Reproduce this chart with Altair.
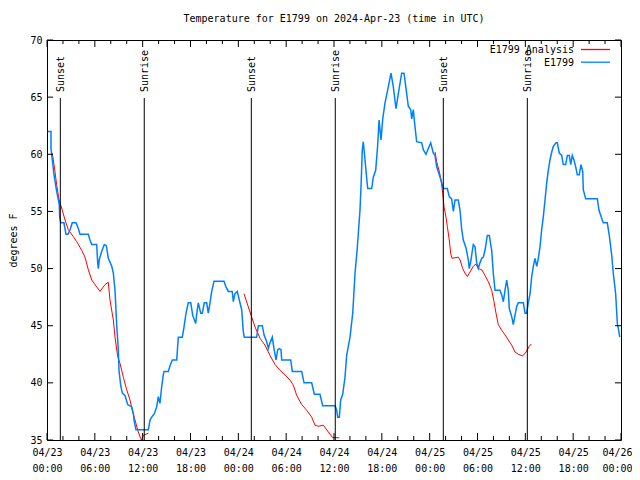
import altair as alt
import pandas as pd

title_text = "Temperature for E1799 on 2024-Apr-23 (time in UTC)"
y_title = "degrees F"
series_names = ["E1799 Analysis", "E1799"]
series_colors = ["#ff0000", "#0080ff"]
FONT = "DejaVu Sans Mono"

# hours since 2024-04-23 00:00 UTC, temperature (deg F)
obs_points = [
    (0.1, 62.0), (0.5, 62.0), (0.5, 60.5), (0.88, 58.2), (1.13, 57.1), (1.34, 56.3), (1.54, 55.6),
    (1.59, 54.5), (1.72, 54.0), (2.13, 54.0), (2.38, 53.0), (2.63, 53.0), (2.89, 53.4), (3.17, 54.0),
    (3.64, 54.0), (3.93, 53.5), (4.14, 53.0), (5.18, 53.0), (5.39, 52.5), (5.61, 52.1), (6.23, 52.1),
    (6.36, 50.5), (6.44, 50.0), (6.56, 50.8), (6.86, 51.5), (7.19, 52.1), (7.44, 52.0), (7.69, 50.9),
    (8.12, 50.2), (8.32, 49.6), (8.53, 48.1), (8.74, 45.1), (8.94, 42.9), (9.03, 41.1), (9.24, 39.8),
    (9.45, 39.1), (9.78, 38.9), (10.12, 38.1), (10.62, 37.9), (10.83, 37.3), (10.95, 36.6),
    (11.16, 35.9), (12.71, 35.9), (12.92, 36.75), (13.13, 37.0), (13.46, 37.3), (13.76, 37.9),
    (13.96, 38.8), (14.17, 38.2), (14.39, 39.7), (14.59, 40.7), (14.68, 41.0), (15.22, 41.0),
    (15.43, 41.5), (15.72, 42.0), (16.27, 42.0), (16.47, 44.0), (16.97, 44.0), (17.19, 44.9),
    (17.44, 46.1), (17.72, 47.0), (18.03, 47.0), (18.28, 45.9), (18.65, 45.2), (18.85, 46.4),
    (18.98, 47.0), (19.28, 46.1), (19.48, 46.1), (19.73, 47.0), (20.03, 47.0), (20.23, 46.1),
    (20.45, 47.0), (20.66, 48.0), (20.95, 48.9), (22.20, 48.9), (22.45, 48.4), (22.74, 48.0),
    (23.24, 48.0), (23.37, 47.1), (23.58, 47.8), (23.87, 48.0), (24.12, 47.25), (24.42, 46.4),
    (24.62, 44.5), (24.75, 44.0), (26.30, 44.0), (26.51, 45.0), (27.01, 45.0), (27.22, 44.2),
    (27.56, 43.6), (27.76, 43.0), (27.97, 43.5), (28.26, 44.0), (28.47, 43.0), (28.73, 42.0),
    (28.94, 42.9), (29.14, 43.0), (29.35, 42.9), (29.44, 42.0), (30.57, 42.0), (30.77, 41.0),
    (31.95, 41.0), (32.24, 40.0), (33.20, 40.0), (33.53, 39.0), (34.24, 39.0), (34.58, 38.0),
    (36.13, 38.0), (36.34, 37.6), (36.46, 37.0), (36.67, 37.0), (36.84, 38.5), (37.09, 39.0),
    (37.38, 40.5), (37.59, 42.4), (38.01, 44.0), (38.35, 46.1), (38.64, 49.6), (38.92, 51.8),
    (39.26, 55.1), (39.39, 57.2), (39.55, 60.4), (39.67, 61.1), (39.89, 59.5), (40.10, 57.9),
    (40.23, 57.0), (40.73, 57.0), (40.93, 58.0), (41.23, 58.6), (41.48, 60.8), (41.65, 63.0),
    (41.90, 61.25), (42.11, 63.1), (42.40, 64.5), (42.81, 65.9), (43.15, 67.1), (43.44, 65.9),
    (43.74, 64.2), (43.78, 64.0), (44.07, 65.3), (44.49, 67.1), (44.78, 67.1), (45.12, 65.3),
    (45.32, 64.2), (45.62, 63.9), (45.75, 63.1), (45.95, 63.9), (46.16, 62.4), (46.37, 61.1),
    (47.00, 61.0), (47.20, 60.4), (47.54, 60.0), (47.83, 60.5), (48.13, 61.0), (48.46, 60.1),
    (48.67, 59.9), (48.88, 58.9), (49.21, 58.2), (49.39, 57.8), (49.71, 57.0), (50.21, 57.0),
    (50.46, 56.3), (50.76, 56.1), (50.97, 55.0), (51.18, 56.0), (51.59, 56.0), (51.81, 55.1),
    (52.02, 53.4), (52.22, 52.5), (52.56, 51.8), (52.85, 50.75), (52.97, 50.0), (53.18, 50.75),
    (53.47, 52.1), (53.69, 51.9), (53.90, 50.5), (54.10, 50.0), (54.31, 50.5), (54.53, 50.9),
    (54.73, 51.0), (54.94, 51.6), (55.23, 52.9), (55.48, 52.9), (55.78, 51.6), (55.98, 49.6),
    (56.20, 48.1), (56.82, 48.1), (57.04, 47.7), (57.24, 47.1), (57.45, 48.1), (57.66, 49.0),
    (57.86, 48.1), (57.99, 46.5), (58.29, 45.8), (58.49, 45.1), (58.70, 45.9), (58.92, 46.7),
    (59.12, 47.0), (59.75, 47.0), (59.96, 46.1), (60.17, 46.1), (60.37, 47.0), (60.59, 47.8),
    (60.80, 49.3), (61.00, 50.2), (61.21, 50.9), (61.43, 50.2), (61.63, 50.9), (61.84, 51.9),
    (62.05, 53.4), (62.25, 54.5), (62.47, 56.0), (62.68, 57.5), (62.88, 58.6), (63.09, 59.5),
    (63.31, 60.2), (63.51, 60.7), (63.85, 61.0), (64.01, 61.0), (64.26, 60.1), (64.56, 59.9),
    (64.76, 59.1), (65.06, 59.1), (65.27, 59.9), (65.52, 59.9), (65.69, 59.1), (65.89, 59.9),
    (66.10, 59.5), (66.32, 58.9), (66.52, 58.2), (66.77, 58.2), (66.98, 59.1), (67.20, 58.5),
    (67.27, 56.9), (67.57, 56.1), (69.03, 56.1), (69.24, 55.1), (69.65, 54.25), (69.78, 54.0),
    (70.28, 54.0), (70.53, 52.9), (70.83, 51.2), (71.03, 49.6), (71.33, 47.8), (71.54, 45.2),
    (71.71, 44.6), (71.84, 44.0),
]

analysis_seg1 = [
    (0.66, 60.1), (0.92, 58.9), (1.22, 57.3), (1.51, 56.0), (1.84, 55.3), (2.26, 54.25),
    (2.67, 53.4), (3.30, 52.8), (3.73, 52.35), (4.35, 51.6), (4.77, 51.0), (5.18, 49.9),
    (5.61, 49.0), (6.23, 48.4), (6.65, 48.0), (7.28, 48.6), (7.69, 48.8), (7.90, 47.25),
    (8.32, 45.5), (8.53, 44.0), (8.87, 42.3), (9.16, 41.7), (9.57, 40.5), (10.00, 39.4),
    (10.41, 38.5), (10.70, 37.6), (11.04, 36.75), (11.45, 35.7), (11.75, 35.15), (11.83, 35.0),
    (12.08, 35.4), (12.71, 35.6),
]
analysis_seg2 = [
    (24.71, 47.8), (25.46, 46.2), (26.09, 44.9), (26.72, 43.9), (27.34, 43.3), (27.97, 42.4),
    (28.60, 41.6), (29.23, 41.1), (29.85, 40.7), (30.48, 40.25), (30.90, 39.8), (31.32, 38.9),
    (31.95, 38.1), (32.58, 37.6), (33.20, 37.0), (33.62, 36.3), (34.03, 36.2), (34.66, 36.3),
    (35.29, 35.7), (35.84, 35.2), (36.67, 35.2),
]
analysis_seg3 = [
    (48.67, 60.2), (48.88, 59.35), (49.21, 58.5), (49.42, 57.75), (49.64, 56.6), (49.80, 55.4),
    (50.05, 54.5), (50.21, 53.7), (50.46, 52.5), (50.64, 51.3), (50.80, 50.9), (51.59, 51.0),
    (51.81, 50.75), (52.14, 50.0), (52.43, 49.6), (52.72, 49.3), (53.06, 49.7), (53.47, 50.2),
    (53.81, 50.4), (54.10, 50.0), (54.53, 49.9), (54.94, 49.4), (55.36, 48.85), (55.78, 48.1),
    (56.07, 47.1), (56.32, 46.1), (56.61, 45.1), (57.04, 44.6), (57.45, 44.2), (57.86, 43.75),
    (58.29, 43.3), (58.70, 42.7), (59.12, 42.5), (59.67, 42.35), (60.08, 42.7), (60.50, 43.2),
    (60.75, 43.4),
]

sun_hours = [1.67, 12.2, 25.63, 36.16, 49.71, 60.25]
sun_labels = ["Sunset", "Sunrise", "Sunset", "Sunrise", "Sunset", "Sunrise"]

major_x = [0, 6, 12, 18, 24, 30, 36, 42, 48, 54, 60, 66, 72]
minor_x = [2, 4, 8, 10, 14, 16, 20, 22, 26, 28, 32, 34, 38, 40, 44, 46, 50, 52, 56, 58, 62, 64, 68, 70]
y_ticks = [35, 40, 45, 50, 55, 60, 65, 70]

W, H = 574, 400

xs = alt.Scale(domain=[0, 72], nice=False, zero=False)
ys = alt.Scale(domain=[35, 70], nice=False, zero=False)

obs_df = pd.DataFrame(obs_points, columns=["h", "t"])
rows = []
for k, seg in enumerate([analysis_seg1, analysis_seg2, analysis_seg3]):
    for h, t in seg:
        rows.append({"h": h, "t": t, "seg": k})
ana_df = pd.DataFrame(rows)

label_expr = ("['04/' + (23 + floor(datum.value / 24)), "
              "(datum.value % 24 < 10 ? '0' : '') + (datum.value % 24) + ':00']")

x_axis = alt.Axis(values=major_x, labelExpr=label_expr, labelLineHeight=16, labelPadding=7,
                  labelAngle=0, labelFlush=False, labelOverlap=False, title=None,
                  labelOffset=alt.condition("datum.value >= 72", alt.value(-4), alt.value(0)))
y_axis = alt.Axis(values=y_ticks, labelPadding=5, labelFlush=False, labelOverlap=False,
                  title=y_title, titlePadding=11)


def X(field="h"):
    return alt.X(f"{field}:Q", scale=xs, axis=x_axis)


def Y(field="t"):
    return alt.Y(f"{field}:Q", scale=ys, axis=y_axis)


ana = alt.Chart(ana_df).mark_line(color=series_colors[0], strokeWidth=1, clip=True).encode(
    x=X(), y=Y(), detail="seg:N", order="h:Q",
)
obs = alt.Chart(obs_df).mark_line(color=series_colors[1], strokeWidth=1.5, clip=True).encode(
    x=X(), y=Y(), order="h:Q",
)

sun_df = pd.DataFrame({"h": sun_hours, "label": sun_labels})
sun_rules = alt.Chart(sun_df).mark_rule(color="black", strokeWidth=1).encode(
    x=X(), y=alt.value(58), y2=alt.value(H)
)
sun_text = alt.Chart(sun_df).mark_text(
    angle=270, align="left", baseline="middle", font=FONT, fontSize=10, color="black", dy=1
).encode(x=X(), y=alt.value(52), text="label:N")

mx = pd.DataFrame({"h": major_x})
nx = pd.DataFrame({"h": minor_x})
yt = pd.DataFrame({"t": y_ticks})
tick_layers = [
    alt.Chart(mx).mark_rule(color="black").encode(x=X(), y=alt.value(H), y2=alt.value(H - 7)),
    alt.Chart(mx).mark_rule(color="black").encode(x=X(), y=alt.value(0), y2=alt.value(7)),
    alt.Chart(nx).mark_rule(color="black").encode(x=X(), y=alt.value(H), y2=alt.value(H - 4)),
    alt.Chart(nx).mark_rule(color="black").encode(x=X(), y=alt.value(0), y2=alt.value(4)),
    alt.Chart(yt).mark_rule(color="black").encode(y=Y(), x=alt.value(0), x2=alt.value(6)),
    alt.Chart(yt).mark_rule(color="black").encode(y=Y(), x=alt.value(W - 6), x2=alt.value(W)),
]

legend_layers = []
for i, (name, col) in enumerate(zip(series_names, series_colors)):
    ldf = pd.DataFrame({"label": [name]})
    legend_layers.append(
        alt.Chart(ldf).mark_text(align="right", baseline="middle", font=FONT, fontSize=10, color="black").encode(
            x=alt.value(527), y=alt.value(10 + 12.7 * i), text="label:N")
    )
    legend_layers.append(
        alt.Chart(ldf).mark_rule(color=col, strokeWidth=1.3).encode(
            x=alt.value(534), x2=alt.value(563), y=alt.value(9.5 + 12.7 * i))
    )

chart = alt.layer(ana, obs, sun_rules, sun_text, *tick_layers, *legend_layers).properties(
    width=W, height=H,
    title=alt.TitleParams(title_text, font=FONT, fontSize=10, fontWeight="normal", color="black", offset=11),
    autosize=alt.AutoSizeParams(type="none"),
    padding={"left": 39, "top": 32, "right": 11, "bottom": 38},
    background="white",
).configure_axis(
    labelFont=FONT, titleFont=FONT, labelFontSize=10, titleFontSize=10, titleFontWeight="normal",
    labelColor="black", titleColor="black", grid=False, domain=False, ticks=False, tickSize=0,
).configure_view(stroke="black", strokeWidth=1)

chart.save("out.html", embed_options={"renderer": "svg", "actions": False})
